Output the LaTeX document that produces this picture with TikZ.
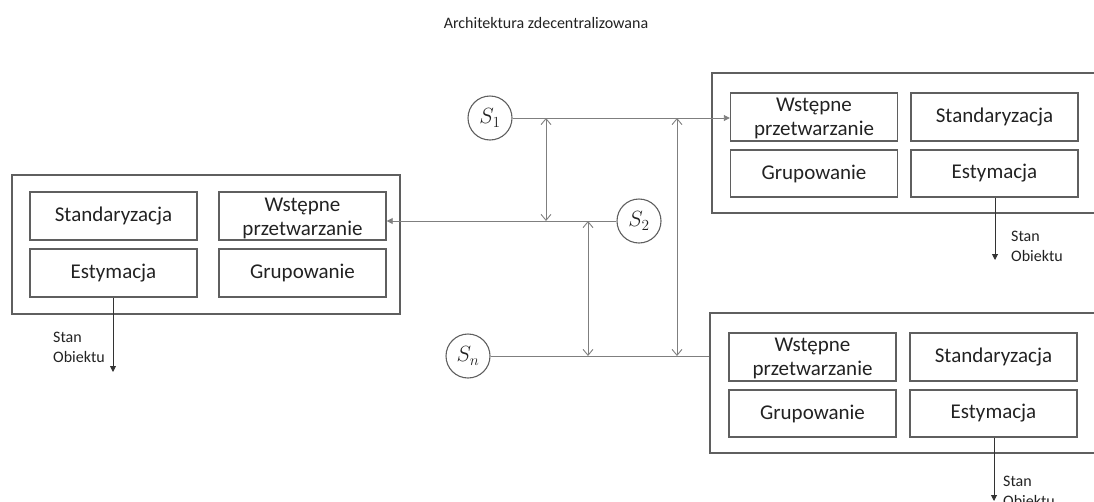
\documentclass[tikz,border=0pt]{standalone}
\usepackage{fix-cm}
\usepackage{fontspec}
\setmainfont{Carlito}
\usetikzlibrary{arrows.meta,calc}
\definecolor{boxc}{HTML}{5F5F5F}
\definecolor{linec}{HTML}{7F7F7F}
\definecolor{txtc}{HTML}{222222}
\tikzset{
  outerbox/.style={draw=boxc,line width=1.4pt,inner sep=0pt},
  innerbox/.style={draw=boxc,line width=1.4pt,inner sep=0pt,minimum width=167pt,minimum height=48pt,
    font=\fontsize{21}{24}\selectfont,text=txtc},
  twoline/.style={inner sep=0pt,align=center,font=\fontsize{21}{24}\selectfont,text=txtc,anchor=base},
  sensor/.style={draw=boxc,line width=1.1pt,circle,minimum size=44pt,inner sep=0pt,font=\fontsize{22}{22}\selectfont,text=txtc},
  conn/.style={draw=linec,line width=0.9pt},
  dbl/.style={conn,{Straight Barb[length=6pt,width=10pt]}-{Straight Barb[length=6pt,width=10pt]}},
  outarr/.style={draw=black!80,line width=0.9pt,-{Triangle[length=6pt,width=6pt]}},
  outlbl/.style={inner sep=0pt,align=left,anchor=base west,font=\fontsize{16}{20}\selectfont,text=txtc},
}
\begin{document}
\begin{tikzpicture}[x=1pt,y=-1pt]
\useasboundingbox (0,0) rectangle (1094,501);
\clip (0,0) rectangle (1094,501);

\node[inner sep=0pt,anchor=base,font=\fontsize{16}{19}\selectfont,text=txtc] (title) at (546,28) {Architektura zdecentralizowana};

% left processing unit
\node[outerbox,minimum width=388pt,minimum height=139pt] (L) at (206,244.5) {};
\node[innerbox] (Lstd) at (113.5,216) {Standaryzacja};
\node[innerbox] (Lpre) at (302.5,216) {};
\node[twoline] (Lpretxt) at (302.5,235) {Wstępne\\przetwarzanie};
\node[innerbox] (Lest) at (113.5,273) {Estymacja};
\node[innerbox] (Lgrp) at (302.5,273) {Grupowanie};

% top right processing unit
\node[outerbox,minimum width=408pt,minimum height=140pt] (T) at (916,143) {};
\node[innerbox] (Tpre) at (814,117) {};
\node[twoline] (Tpretxt) at (814,135) {Wstępne\\przetwarzanie};
\node[innerbox] (Tstd) at (994.5,117) {Standaryzacja};
\node[innerbox,minimum height=47pt] (Tgrp) at (814,173.5) {Grupowanie};
\node[innerbox,minimum height=47pt] (Test) at (994.5,173.5) {Estymacja};

% bottom right processing unit
\node[outerbox,minimum width=410pt,minimum height=140pt] (B) at (915,383) {};
\node[innerbox] (Bpre) at (812.5,357) {};
\node[twoline] (Bpretxt) at (812.5,375) {Wstępne\\przetwarzanie};
\node[innerbox] (Bstd) at (993.5,357) {Standaryzacja};
\node[innerbox,minimum height=47pt] (Bgrp) at (812.5,413.5) {Grupowanie};
\node[innerbox,minimum height=47pt] (Best) at (993.5,413.5) {Estymacja};

% sensors
\node[sensor] (s1) at (490,118) {$S_1$};
\node[sensor] (s2) at (639,221) {$S_2$};
\node[sensor] (sn) at (468,356) {$S_n$};

% sensor links
\draw[conn,-{Triangle[length=6pt,width=6pt]}] (s1.east) -- (s1.east -| Tpre.west);
\draw[conn,-{Triangle[length=6pt,width=6pt]}] (s2.west) -- (s2.west -| Lpre.east);
\draw[conn] (sn.east) -- (sn.east -| B.west);

% exchange between sensor lines
\coordinate (x1) at (546,0);
\coordinate (x2) at (588,0);
\coordinate (x3) at (677,0);
\draw[dbl] (x1 |- s1.east) -- (x1 |- s2.west);
\draw[dbl] (x2 |- s2.west) -- (x2 |- sn.east);
\draw[dbl] (x3 |- s1.east) -- (x3 |- sn.east);

% outputs
\coordinate (Lout) at (113,372);
\coordinate (Tout) at (995,260);
\coordinate (Bout) at (994,501);
\draw[outarr] (Lest.south -| Lout) -- (Lout);
\draw[outarr] (Test.south -| Tout) -- (Tout);
\draw[outarr] (Best.south -| Bout) -- (Bout);
\node[outlbl] (Llbl) at (53,362) {Stan\\Obiektu};
\node[outlbl] (Tlbl) at (1011,261) {Stan\\Obiektu};
\node[outlbl] (Blbl) at (1003,506) {Stan\\Obiektu};
\end{tikzpicture}
\end{document}
